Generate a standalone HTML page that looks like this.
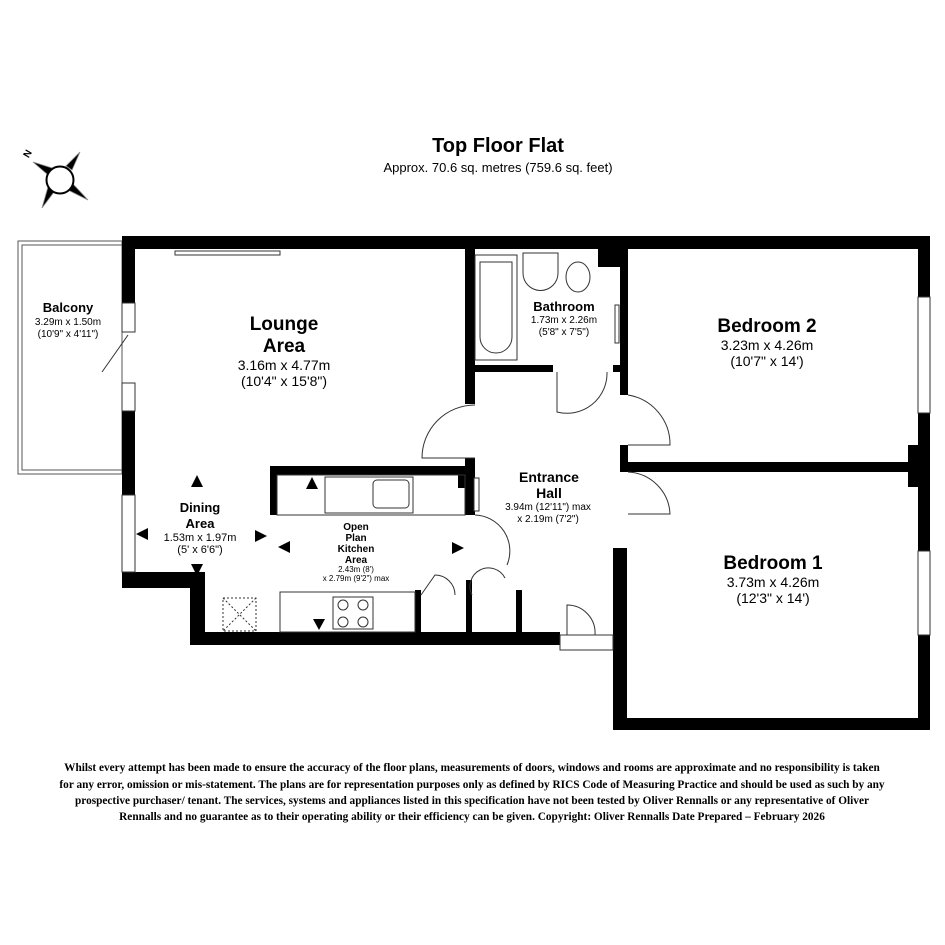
<!DOCTYPE html>
<html><head><meta charset="utf-8"><style>
body{margin:0;background:#fff}
svg{display:block}
.s{font-family:"Liberation Sans",sans-serif}
.d{font-family:"Liberation Serif",serif;font-weight:bold;font-size:11.3px}
</style></head><body>
<svg width="945" height="945" viewBox="0 0 945 945" xmlns="http://www.w3.org/2000/svg">
<rect width="945" height="945" fill="#fff"/>
<text x="498" y="152" class="s" font-size="20" font-weight="bold" text-anchor="middle">Top Floor Flat</text>
<text x="498" y="172" class="s" font-size="13" text-anchor="middle">Approx. 70.6 sq. metres (759.6 sq. feet)</text>
<!-- compass -->
<g fill="#000" stroke="#888" stroke-width="0.8">
<polygon points="33,162 52,168 47,174"/>
<polygon points="80,152 72,170 66,166"/>
<polygon points="88,200 68,190 73,184"/>
<polygon points="42,208 48,187 54,192"/>
</g>
<circle cx="60" cy="180" r="13.5" fill="#fff" stroke="#000" stroke-width="2"/>
<text x="26" y="160" class="s" font-size="10" font-weight="bold" transform="rotate(-60 26 157)">N</text>
<!-- balcony -->
<g fill="none" stroke="#555" stroke-width="1">
<rect x="18" y="241" width="104" height="233"/><rect x="22" y="245" width="100" height="225"/>
</g>
<g fill="#000">
<rect x="122" y="236" width="808" height="13"/>
<rect x="122" y="236" width="13" height="67"/>
<rect x="122" y="383" width="13" height="112"/>
<rect x="122" y="572" width="13" height="16"/>
<rect x="122" y="572" width="80" height="16"/>
<rect x="190" y="572" width="15" height="73"/>
<rect x="190" y="632" width="370" height="13"/>
<rect x="465" y="249" width="10" height="155"/>
<rect x="465" y="365" width="88" height="7"/>
<rect x="613" y="365" width="10" height="7"/>
<rect x="598" y="249" width="30" height="18"/>
<rect x="620" y="249" width="8" height="146"/>
<rect x="465" y="458" width="10" height="57"/>
<rect x="458" y="466" width="12" height="22"/>
<rect x="270" y="466" width="200" height="9"/>
<rect x="270" y="466" width="7" height="49"/>
<rect x="415" y="590" width="6" height="44"/>
<rect x="466" y="580" width="6" height="54"/>
<rect x="516" y="590" width="6" height="44"/>
<rect x="620" y="445" width="8" height="27"/>
<rect x="620" y="462" width="298" height="10"/>
<rect x="908" y="445" width="14" height="42"/>
<rect x="613" y="548" width="14" height="182"/>
<rect x="613" y="718" width="317" height="12"/>
<rect x="918" y="236" width="12" height="61"/>
<rect x="918" y="413" width="12" height="138"/>
<rect x="918" y="635" width="12" height="95"/>
</g>
<g fill="#fff" stroke="#333" stroke-width="1">
<rect x="122" y="303" width="13" height="29"/><rect x="122" y="383" width="13" height="28"/>
<rect x="122" y="495" width="13" height="77"/>
<rect x="918" y="297" width="12" height="116"/><rect x="918" y="551" width="12" height="84"/>
<rect x="175" y="251" width="105" height="4"/>
<rect x="560" y="635" width="53" height="15"/>
<rect x="474" y="478" width="5" height="33"/>
</g>
<g fill="none" stroke="#333" stroke-width="1">
<path d="M475 405 A53 53 0 0 0 422 458 L475 458"/>
<path d="M628 395 A50 50 0 0 1 670 445 L628 445"/>
<path d="M628 472 A44 44 0 0 1 670 514 L628 514"/>
<path d="M475 515 A36 36 0 0 1 507 565"/>
<path d="M557 372 L557 412 A40 40 0 0 0 607 372"/>
<path d="M567 635 L567 605 A28 28 0 0 1 595 635"/>
<path d="M421 595 L435 575 A20 20 0 0 1 455 595"/>
<path d="M472 595 A18 18 0 0 1 505 578"/>
<line x1="102" y1="372" x2="128" y2="335"/>
<rect x="475" y="255" width="42" height="105"/>
<path d="M480 262 h32 v75 a16 16 0 0 1 -32 0z"/>
<path d="M523 253 h35 v20 a17 17 0 0 1 -35 0z"/>
<ellipse cx="578" cy="277" rx="12" ry="15"/>
<rect x="615" y="305" width="4" height="38"/>
<rect x="277" y="475" width="188" height="40"/>
<rect x="325" y="477" width="88" height="36"/>
<rect x="373" y="480" width="36" height="28" rx="4"/>
<rect x="280" y="592" width="135" height="40"/>
<rect x="333" y="597" width="40" height="32"/>
<circle cx="343" cy="605" r="5"/><circle cx="363" cy="605" r="5"/><circle cx="343" cy="622" r="5"/><circle cx="363" cy="622" r="5"/>
<rect x="223" y="598" width="33" height="33" stroke-dasharray="2,2"/>
<path d="M223 598 L256 631 M256 598 L223 631" stroke-dasharray="2,2"/>
</g>
<g fill="#000">
<polygon points="197,475 191,487 203,487"/><polygon points="191,564 203,564 197,576"/>
<polygon points="136,534 148,528 148,540"/><polygon points="255,530 267,536 255,542"/>
<polygon points="278,547 290,541 290,553"/><polygon points="452,542 464,548 452,554"/>
<polygon points="312,477 306,489 318,489"/><polygon points="313,619 325,619 319,630"/>
</g>
<g class="s" text-anchor="middle">
<text x="68" y="312" font-size="13" font-weight="bold">Balcony</text>
<text x="68" y="325" font-size="10">3.29m x 1.50m</text>
<text x="68" y="337" font-size="10">(10'9" x 4'11")</text>
<text x="284" y="330" font-size="19" font-weight="bold">Lounge</text>
<text x="284" y="352" font-size="19" font-weight="bold">Area</text>
<text x="284" y="370" font-size="14">3.16m x 4.77m</text>
<text x="284" y="386" font-size="14">(10'4" x 15'8")</text>
<text x="200" y="512" font-size="13" font-weight="bold">Dining</text>
<text x="200" y="528" font-size="13" font-weight="bold">Area</text>
<text x="200" y="541" font-size="11">1.53m x 1.97m</text>
<text x="200" y="553" font-size="11">(5' x 6'6")</text>
<text x="356" y="530" font-size="10" font-weight="bold">Open</text>
<text x="356" y="541" font-size="10" font-weight="bold">Plan</text>
<text x="356" y="552" font-size="10" font-weight="bold">Kitchen</text>
<text x="356" y="563" font-size="10" font-weight="bold">Area</text>
<text x="356" y="572" font-size="8">2.43m (8')</text>
<text x="356" y="581" font-size="8">x 2.79m (9'2") max</text>
<text x="549" y="482" font-size="14" font-weight="bold">Entrance</text>
<text x="549" y="498" font-size="14" font-weight="bold">Hall</text>
<text x="548" y="510" font-size="10">3.94m (12'11") max</text>
<text x="548" y="522" font-size="10">x 2.19m (7'2")</text>
<text x="564" y="311" font-size="13" font-weight="bold">Bathroom</text>
<text x="564" y="323" font-size="10">1.73m x 2.26m</text>
<text x="564" y="335" font-size="10">(5'8" x 7'5")</text>
<text x="767" y="332" font-size="19" font-weight="bold">Bedroom 2</text>
<text x="767" y="350" font-size="14">3.23m x 4.26m</text>
<text x="767" y="366" font-size="14">(10'7" x 14')</text>
<text x="773" y="569" font-size="19" font-weight="bold">Bedroom 1</text>
<text x="773" y="587" font-size="14">3.73m x 4.26m</text>
<text x="773" y="603" font-size="14">(12'3" x 14')</text>
</g>
<g class="d" text-anchor="middle">
<text x="472" y="771">Whilst every attempt has been made to ensure the accuracy of the floor plans, measurements of doors, windows and rooms are approximate and no responsibility is taken</text>
<text x="472" y="788">for any error, omission or mis-statement. The plans are for representation purposes only as defined by RICS Code of Measuring Practice and should be used as such by any</text>
<text x="472" y="804">prospective purchaser/ tenant. The services, systems and appliances listed in this specification have not been tested by Oliver Rennalls or any representative of Oliver</text>
<text x="472" y="820">Rennalls and no guarantee as to their operating ability or their efficiency can be given. Copyright: Oliver Rennalls Date Prepared – February 2026</text>
</g>
</svg>
</body></html>
